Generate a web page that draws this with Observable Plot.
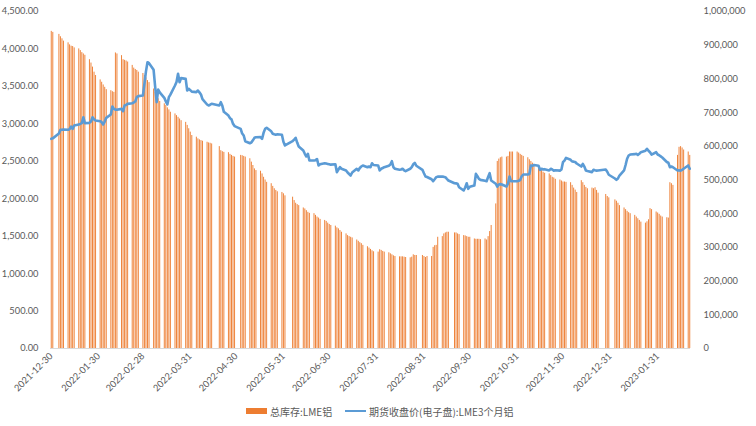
<!DOCTYPE html>
<html><head><meta charset="utf-8">
<script src="https://cdn.jsdelivr.net/npm/d3@7"></script>
<script src="https://cdn.jsdelivr.net/npm/@observablehq/plot@0.6"></script>
<style>
html,body{margin:0;padding:0;background:#fff;}
#wrap{position:relative;width:756px;height:426px;overflow:hidden;}
#legend{position:absolute;left:0;top:398px;width:756px;height:28px;font-family:"Noto Sans CJK SC",sans-serif;font-size:10px;color:#595959;}
.li{position:absolute;top:6px;display:flex;align-items:center;height:14px;white-space:nowrap;}
.sw-bar{width:21px;height:6px;background:#ED7D31;margin-right:3px;}
.sw-line{width:21px;height:2.5px;background:#5B9BD5;margin-right:3px;}
</style></head>
<body><div id="wrap"><div id="chart"></div>
<div id="legend">
  <div class="li" style="left:246px"><span class="sw-bar"></span><span>总库存:LME铝</span></div>
  <div class="li" style="left:345px"><span class="sw-line"></span><span>期货收盘价(电子盘):LME3个月铝</span></div>
</div></div>
<script>
// Trading calendar: first and last day, and UK (LME) holidays
const firstDay = "2021-12-30";
const lastDay = "2023-02-21";
const holidays = ["2022-01-03","2022-04-15","2022-04-18","2022-05-02","2022-06-02","2022-06-03",
  "2022-08-29","2022-09-19","2022-12-26","2022-12-27","2023-01-02"];

// x-axis tick labels
const tickLabels = ["2021-12-30","2022-01-30","2022-02-28","2022-03-31","2022-04-30","2022-05-31",
  "2022-06-30","2022-07-31","2022-08-31","2022-09-30","2022-10-31","2022-11-30","2022-12-31","2023-01-31"];

// 总库存:LME铝 (tonnes), one value per trading day, by month
const stock = [
  941000,938000,
  932000,925000,919000,912000,907000,901000,897000,896000,892000,889000,884000,878000,874000,870000,857000,847000,835000,820000,810000,797000,
  790000,782000,775000,768000,765000,762000,760000,877000,874000,869000,857000,855000,853000,850000,840000,832000,828000,825000,820000,816000,
  810000,803000,795000,789000,770000,760000,750000,741000,733000,726000,721000,714000,708000,701000,696000,691000,686000,681000,676000,671000,662000,652000,642000,
  632000,627000,622000,619000,617000,615000,612000,610000,609000,607000,599000,587000,584000,582000,581000,576000,573000,570000,568000,
  573000,572000,570000,568000,563000,553000,543000,533000,528000,526000,518000,508000,500000,493000,489000,481000,474000,469000,465000,463000,459000,
  453000,449000,439000,431000,427000,424000,417000,414000,409000,404000,401000,400000,395000,390000,387000,383000,380000,377000,372000,368000,
  365000,363000,358000,355000,350000,345000,340000,335000,332000,330000,328000,322000,318000,314000,311000,306000,302000,298000,294000,290000,287000,
  286000,293000,291000,288000,286000,284000,281000,278000,275000,273000,272000,272000,272000,271000,270000,269000,271000,278000,276000,276000,276000,273000,
  270000,273000,273000,300000,305000,306000,330000,332000,340000,343000,345000,345000,343000,343000,340000,338000,335000,334000,332000,330000,330000,
  325000,324000,324000,324000,323000,325000,322000,332000,347000,365000,429000,555000,562000,566000,568000,568000,570000,583000,583000,583000,583000,
  580000,576000,573000,570000,566000,560000,555000,550000,546000,538000,533000,528000,523000,520000,518000,513000,508000,506000,502000,500000,497000,494000,
  494000,493000,492000,484000,476000,470000,463000,498000,492000,484000,478000,474000,476000,474000,477000,469000,461000,457000,451000,447000,
  441000,437000,431000,424000,417000,412000,407000,403000,400000,395000,390000,385000,380000,375000,372000,376000,382000,415000,412000,405000,402000,
  398000,393000,390000,388000,387000,492000,489000,484000,573000,597000,599000,595000,589000,583000,573000
];

// 期货收盘价(电子盘):LME3个月铝 (USD/t), one value per trading day, by month
const price = [
  2800,2806,
  2870,2920,2920,2925,2920,2930,2964,2933,2978,2990,3000,3010,3088,3010,3013,3030,3088,3060,3045,3035,
  3022,2991,3030,3080,3125,3231,3200,3190,3187,3200,3169,3245,3250,3267,3275,3285,3298,3356,3370,3378,
  3535,3700,3823,3810,3721,3500,3289,3458,3420,3347,3300,3258,3356,3390,3512,3560,3668,3556,3610,3600,3445,3467,3450,
  3430,3423,3445,3420,3392,3330,3258,3245,3255,3267,3245,3289,3240,3160,3111,3075,3060,3000,2970,
  2933,2870,2844,2768,2741,2750,2780,2813,2820,2822,2800,2880,2933,2947,2900,2867,2860,2855,2860,2855,2760,
  2711,2768,2790,2813,2750,2697,2644,2600,2564,2600,2510,2510,2515,2530,2444,2460,2474,2470,2465,2460,
  2455,2460,2355,2390,2421,2400,2377,2350,2330,2310,2350,2400,2377,2410,2430,2444,2421,2430,2421,2474,2450,
  2444,2377,2400,2410,2421,2440,2457,2501,2420,2400,2386,2390,2400,2380,2368,2400,2421,2460,2479,2440,2386,2340,
  2297,2290,2260,2234,2260,2288,2295,2297,2292,2288,2265,2243,2207,2205,2200,2154,2110,2150,2207,2132,2160,
  2177,2332,2300,2265,2252,2240,2234,2290,2341,2243,2200,2163,2190,2195,2190,2163,2200,2297,2234,2234,2234,
  2240,2250,2300,2323,2323,2330,2444,2440,2450,2440,2386,2400,2390,2395,2377,2400,2390,2375,2380,2375,2390,2488,
  2510,2546,2520,2497,2495,2490,2470,2430,2466,2430,2377,2370,2355,2386,2380,2375,2377,2390,2360,2320,
  2270,2252,2270,2310,2377,2450,2533,2577,2590,2595,2600,2585,2600,2621,2640,2666,2640,2620,2590,2621,2590,
  2580,2565,2550,2490,2480,2421,2430,2421,2377,2380,2375,2386,2400,2444,2400
];

const parse = d3.utcParse("%Y-%m-%d");
const fmt = d3.utcFormat("%Y-%m-%d");
const hol = new Set(holidays);
const dates = [];
for (let d = parse(firstDay); d <= parse(lastDay); d = d3.utcDay.offset(d, 1)) {
  const wd = d.getUTCDay();
  if (wd === 0 || wd === 6 || hol.has(fmt(d))) continue;
  dates.push(d);
}
const data = dates.map((date, i) => ({date, stock: stock[i], price: price[i]}));

const leftMax = 4500, rightMax = 1000000;
const k = leftMax / rightMax;
const font = "Lato, 'Noto Sans', sans-serif";

const chart = Plot.plot({
  width: 756, height: 398,
  marginLeft: 50, marginRight: 66, marginTop: 11, marginBottom: 50,
  style: {fontFamily: font, fontSize: "9.3px", color: "#595959", background: "#fff"},
  x: {type: "utc", domain: [d3.utcHour.offset(parse(firstDay), -12), d3.utcHour.offset(parse(lastDay), 12)]},
  y: {domain: [0, leftMax]},
  marks: [
    Plot.ruleX(data, {x: "date", y1: 0, y2: d => d.stock * k, stroke: "#ED7D31", strokeWidth: 0.95}),
    Plot.ruleY([0], {stroke: "#d9d9d9", strokeWidth: 1}),
    Plot.line(data, {x: "date", y: "price", stroke: "#5B9BD5", strokeWidth: 2.6, strokeLinejoin: "round"}),
    Plot.axisY({ticks: d3.range(0, leftMax + 1, 500), tickFormat: d3.format(",.2f"), tickSize: 0, tickPadding: 12, label: null, fill: "#595959"}),
    Plot.axisY({anchor: "right", ticks: d3.range(0, rightMax + 1, 100000).map(v => v * k),
      tickFormat: v => d3.format(",")(Math.round(v / k)), tickSize: 0, tickPadding: 13, label: null, fill: "#595959"}),
    Plot.axisX({ticks: tickLabels.map(parse), tickFormat: fmt, tickRotate: -45, tickSize: 0, tickPadding: 6, label: null, fill: "#595959"})
  ]
});
document.getElementById("chart").appendChild(chart);
</script></body></html>
